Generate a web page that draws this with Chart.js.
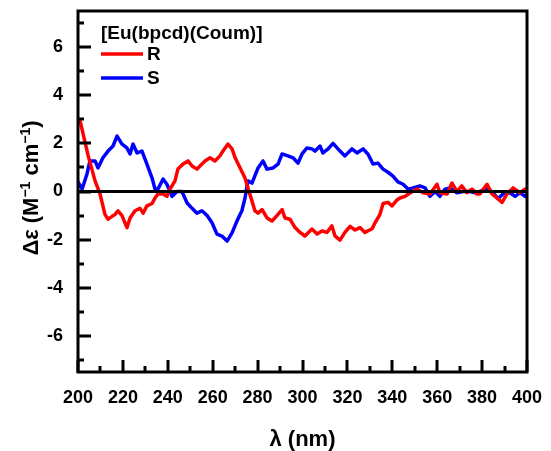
<!DOCTYPE html>
<html>
<head>
<meta charset="utf-8">
<script src="https://cdn.jsdelivr.net/npm/chart.js@4.4.0/dist/chart.umd.min.js"></script>
<style>
  html, body { margin: 0; padding: 0; background: #fff; }
  #wrap { width: 551px; height: 451px; }
</style>
</head>
<body>
<div id="wrap"><canvas id="cd" width="551" height="451"></canvas></div>
<script>
// legend / labels
const legendTitle = '[Eu(bpcd)(Coum)]';
const seriesNames = ['R', 'S'];
const seriesColors = ['#ff0000', '#0000ff'];

// R enantiomer (red)
const rNm = [200, 201, 204.5, 207.6, 209.8, 212, 213.4, 216.5, 217.8, 219.6, 221.8, 223.2, 225.4, 227.6, 229,
  230.7, 233, 234.3, 235.6, 237.9, 239.6, 241, 243.2, 244.5, 246.8, 249, 250.8, 253, 254.3, 256.6, 258.8,
  261, 263.2, 264.6, 266.8, 268.6, 270, 272.2, 274.4, 275.7, 277.5, 278.8, 280.2, 282, 284.2, 286.4, 288.6,
  290.9, 292.2, 294.4, 296.7, 298.9, 301.1, 304.2, 306.5, 308.7, 310.9, 313.1, 314.5, 316.7, 318.9, 321.2,
  323.4, 325.6, 327.8, 331, 332.3, 334.5, 335.9, 338.1, 339.9, 342.1, 343.4, 345.7, 347.9, 351, 353.7,
  356.8, 359.9, 361.2, 364.4, 366.6, 368.8, 371, 373.3, 375.5, 377.7, 379, 382.2, 384.4, 386.6, 388.9,
  391.1, 393.8, 396.9, 399.1, 400];
const rVal = [3.0, 2.9, 1.5, 0.44, -0.1, -0.95, -1.15, -0.95, -0.8, -1.0, -1.5, -1.1, -0.8, -0.7, -0.9,
  -0.6, -0.5, -0.27, -0.1, -0.1, -0.2, 0.1, 0.44, 0.93, 1.14, 1.27, 1.06, 0.93, 1.06, 1.27, 1.4,
  1.27, 1.48, 1.68, 1.97, 1.77, 1.4, 0.98, 0.56, 0.15, -0.4, -0.8, -0.9, -0.75, -1.1, -1.23, -1.0,
  -0.75, -1.1, -1.15, -1.5, -1.7, -1.85, -1.56, -1.77, -1.64, -1.7, -1.43, -1.85, -2.02, -1.7, -1.45,
  -1.6, -1.5, -1.7, -1.55, -1.3, -0.95, -0.5, -0.45, -0.6, -0.35, -0.27, -0.2, -0.06, 0.1, -0.05,
  -0.1, 0.3, -0.05, -0.1, 0.35, 0.0, 0.23, -0.05, 0.1, -0.1, -0.1, 0.3, -0.1, -0.27, -0.45,
  -0.1, 0.15, -0.05, 0.1, 0.05];

// S enantiomer (blue)
const sNm = [200, 201.8, 204, 205.3, 207.6, 208.9, 211.1, 213.4, 215.6, 217.4, 219.6, 221.8, 223.2, 224.5,
  226.3, 228.5, 230.7, 233, 234.3, 235.6, 237.9, 239.6, 241.9, 244.1, 246.3, 248.6, 250.8, 253, 255.2,
  257.5, 259.7, 261.9, 264.1, 266.4, 268.6, 270.8, 273, 274.4, 275.7, 277.5, 280.2, 282.4, 284.2, 286.9,
  289.1, 290.9, 293.5, 295.8, 298, 299.8, 302, 304.2, 305.6, 307.8, 309.1, 311.4, 313.6, 316.7, 318.9,
  322, 324.3, 327, 329.2, 331.4, 333.6, 335.9, 338.1, 340.3, 342.5, 344.8, 347, 349.2, 352.3, 354.6,
  356.8, 359, 361.2, 363.5, 365.7, 368.8, 371.5, 374.6, 376.8, 379, 382.2, 384.8, 387.1, 389.3, 392.4,
  394.7, 396.9, 399.1, 400];
const sVal = [0.4, 0.1, 0.73, 1.27, 1.27, 0.98, 1.4, 1.68, 1.89, 2.3, 1.97, 1.81, 1.56, 1.97,
  1.6, 1.68, 1.14, 0.56, 0.1, 0.1, 0.52, 0.3, -0.2, 0.0, 0.0, -0.48, -0.7, -0.9, -0.8,
  -1.0, -1.3, -1.77, -1.85, -2.06, -1.72, -1.23, -0.8, -0.27, 0.44, 0.35, 0.98, 1.27, 0.93, 0.98,
  1.14, 1.56, 1.48, 1.4, 1.18, 1.56, 1.81, 1.77, 1.68, 1.89, 1.6, 1.77, 2.0, 1.68, 1.48,
  1.77, 1.6, 1.77, 1.55, 1.14, 1.18, 0.93, 0.8, 0.64, 0.4, 0.3, 0.1, 0.15, 0.23, 0.15,
  -0.2, 0.0, -0.2, 0.1, 0.15, -0.05, 0.0, 0.0, -0.05, 0.0, 0.15, -0.05, -0.3, -0.1, -0.05,
  -0.2, -0.05, -0.2, -0.1];

// axes
const xTicks = [200, 220, 240, 260, 280, 300, 320, 340, 360, 380, 400];
const xMinor = [210, 230, 250, 270, 290, 310, 330, 350, 370, 390];
const yTicks = [-6, -4, -2, 0, 2, 4, 6];
const yMinor = [-7, -5, -3, -1, 1, 3, 5, 7];

const FONT = '"Liberation Sans", Arial, sans-serif';

const toPoints = (xs, ys) => xs.map((x, i) => ({ x: x, y: ys[i] }));

// frame, inward ticks, zero line, legend, axis titles
const decor = {
  id: 'decor',
  afterDatasetsDraw(c) {
    const ctx = c.ctx;
    const a = c.chartArea;
    const sx = c.scales.x, sy = c.scales.y;
    ctx.save();
    ctx.strokeStyle = '#000';
    ctx.lineWidth = 3;
    // zero line
    const y0 = sy.getPixelForValue(0);
    ctx.beginPath();
    ctx.moveTo(a.left, y0);
    ctx.lineTo(a.right, y0);
    ctx.stroke();
    // frame
    ctx.lineCap = 'square';
    ctx.strokeRect(a.left, a.top, a.right - a.left, a.bottom - a.top);
    ctx.lineCap = 'butt';
    // ticks (inward)
    ctx.beginPath();
    xTicks.forEach(v => {
      const px = Math.round(sx.getPixelForValue(v));
      ctx.moveTo(px, a.bottom); ctx.lineTo(px, a.bottom - 12);
    });
    xMinor.forEach(v => {
      const px = Math.round(sx.getPixelForValue(v));
      ctx.moveTo(px, a.bottom); ctx.lineTo(px, a.bottom - 6);
    });
    yTicks.forEach(v => {
      const py = Math.round(sy.getPixelForValue(v));
      ctx.moveTo(a.left, py); ctx.lineTo(a.left + 13, py);
    });
    yMinor.forEach(v => {
      const py = Math.round(sy.getPixelForValue(v));
      ctx.moveTo(a.left, py); ctx.lineTo(a.left + 6, py);
    });
    ctx.stroke();
    ctx.restore();
  },
  afterDraw(c) {
    const ctx = c.ctx;
    const a = c.chartArea;
    ctx.save();
    ctx.fillStyle = '#000';

    // legend
    ctx.font = 'bold 19px ' + FONT;
    ctx.textBaseline = 'alphabetic';
    ctx.textAlign = 'left';
    ctx.fillText(legendTitle, 101, 39);
    const rowY = [54, 78];
    c.data.datasets.forEach((ds, i) => {
      ctx.strokeStyle = ds.borderColor;
      ctx.lineWidth = 3.5;
      ctx.beginPath();
      ctx.moveTo(101, rowY[i]);
      ctx.lineTo(143, rowY[i]);
      ctx.stroke();
      ctx.fillStyle = '#000';
      ctx.textBaseline = 'middle';
      ctx.fillText(ds.label, 147, rowY[i] + 1);
    });

    // x title
    ctx.font = 'bold 22px ' + FONT;
    ctx.textAlign = 'center';
    ctx.textBaseline = 'middle';
    ctx.fillText('\u03bb (nm)', (a.left + a.right) / 2, 440);

    // y title with superscripts
    const parts = [
      { t: '\u0394\u03b5 (M', sup: false },
      { t: '\u22121', sup: true },
      { t: ' cm', sup: false },
      { t: '\u22121', sup: true },
      { t: ')', sup: false },
    ];
    const fMain = 'bold 22px ' + FONT, fSup = 'bold 14px ' + FONT;
    let total = 0;
    parts.forEach(p => { ctx.font = p.sup ? fSup : fMain; p.w = ctx.measureText(p.t).width; total += p.w; });
    ctx.translate(30, 188);
    ctx.rotate(-Math.PI / 2);
    ctx.textAlign = 'left';
    ctx.textBaseline = 'alphabetic';
    let x = -total / 2;
    parts.forEach(p => {
      ctx.font = p.sup ? fSup : fMain;
      ctx.fillText(p.t, x, p.sup ? 0 : 8);
      x += p.w;
    });
    ctx.restore();
  }
};

const chart = new Chart(document.getElementById('cd'), {
  type: 'line',
  data: {
    datasets: [
      { label: seriesNames[0], data: toPoints(rNm, rVal), borderColor: seriesColors[0] },
      { label: seriesNames[1], data: toPoints(sNm, sVal), borderColor: seriesColors[1] },
    ].map(d => Object.assign(d, {
      borderWidth: 3.5, pointRadius: 0, fill: false, tension: 0,
      borderJoinStyle: 'round', borderCapStyle: 'round',
    })),
  },
  options: {
    responsive: false,
    animation: false,
    devicePixelRatio: 1,
    layout: { autoPadding: false, padding: { left: 0, top: 11, right: 24, bottom: 0 } },
    plugins: {
      legend: { display: false },
      tooltip: { enabled: false },
    },
    scales: {
      x: {
        type: 'linear',
        min: 200,
        max: 400,
        grid: { display: false },
        border: { display: false },
        afterBuildTicks: s => { s.ticks = xTicks.map(v => ({ value: v })); },
        afterFit: s => {
          s.height = 79;
          s.paddingLeft = 0; s.paddingRight = 0; s.paddingTop = 0; s.paddingBottom = 0;
        },
        ticks: {
          color: '#000',
          font: { family: FONT, size: 18, weight: 'bold' },
          padding: 7,
          maxRotation: 0,
          autoSkip: false,
        },
      },
      y: {
        min: -7.5,
        max: 7.5,
        grid: { display: false },
        border: { display: false },
        afterBuildTicks: s => { s.ticks = yTicks.map(v => ({ value: v })); },
        afterFit: s => {
          s.width = 78;
          s.paddingLeft = 0; s.paddingRight = 0; s.paddingTop = 0; s.paddingBottom = 0;
        },
        ticks: {
          color: '#000',
          font: { family: FONT, size: 18, weight: 'bold' },
          padding: 7,
        },
      },
    },
  },
  plugins: [decor],
});
</script>
</body>
</html>
